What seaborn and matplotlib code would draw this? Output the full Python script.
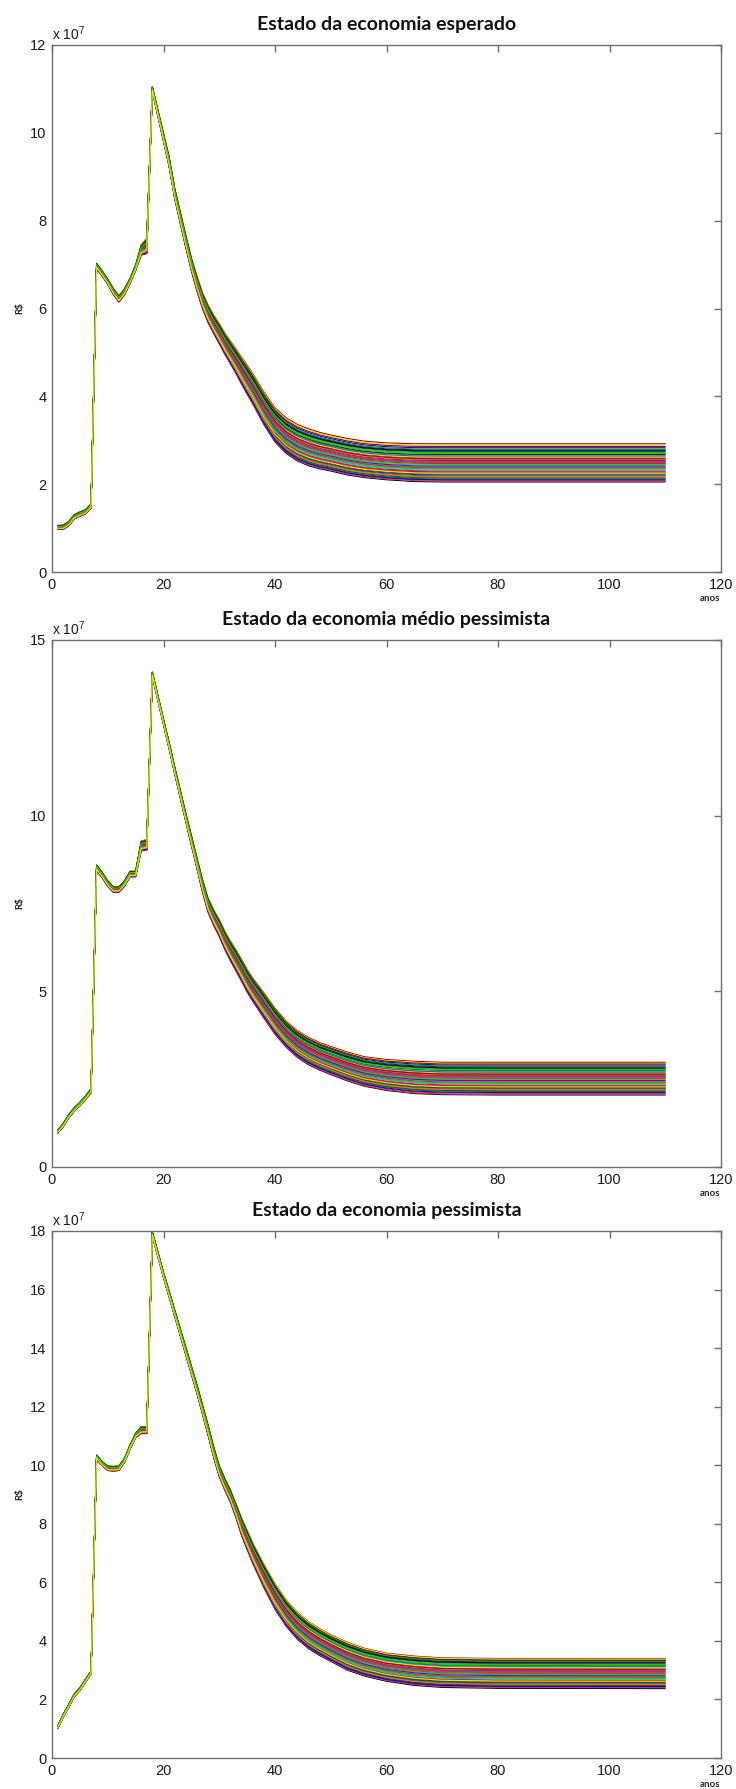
import numpy as np
import pandas as pd
import matplotlib
matplotlib.use("Agg")
import matplotlib.pyplot as plt
import seaborn as sns

# ---------------------------------------------------------------
# Simulated cash balance (R$, in units of 1e7) over the horizon.
# Each scenario is a band of simulation paths: the lower and upper
# envelope of the band at each year, plus the final level of each
# simulated path inside the band.
# ---------------------------------------------------------------
YEARS = [1, 2, 3, 4, 5, 6, 7, 8, 9, 10, 11, 12, 13, 14, 15, 16, 17, 18,
         19, 20, 21, 22, 23, 24, 25, 26, 27, 28, 29, 30, 31, 32, 33, 34,
         35, 36, 38, 40, 42, 44, 46, 48, 50, 53, 56, 60, 65, 70, 80, 110]

# Scenario 1: "esperado"
ESP_LOWER = [0.98, 0.97, 1.05, 1.21, 1.27, 1.32, 1.45, 6.91, 6.74, 6.55, 6.32, 6.15, 6.31, 6.57, 6.87, 7.22, 7.25, 10.95,
             10.38, 9.81, 9.24, 8.51, 7.95, 7.39, 6.86, 6.40, 6.00, 5.68, 5.43, 5.20, 4.96, 4.74, 4.52, 4.28,
             4.05, 3.83, 3.36, 2.96, 2.70, 2.53, 2.42, 2.35, 2.30, 2.21, 2.15, 2.10, 2.06, 2.05, 2.05, 2.05]
ESP_UPPER = [1.06, 1.07, 1.15, 1.31, 1.37, 1.42, 1.55, 7.03, 6.86, 6.67, 6.46, 6.29, 6.45, 6.69, 6.99, 7.45, 7.60, 11.05,
             10.52, 9.99, 9.46, 8.75, 8.21, 7.67, 7.16, 6.74, 6.36, 6.08, 5.85, 5.66, 5.44, 5.26, 5.08, 4.89,
             4.71, 4.52, 4.10, 3.74, 3.51, 3.36, 3.26, 3.18, 3.12, 3.04, 2.98, 2.94, 2.92, 2.92, 2.92, 2.92]
ESP_FINAL = [2.47, 2.12, 2.83, 2.30, 2.66, 2.05, 2.54, 2.92, 2.21, 2.39, 2.74, 2.16, 2.60, 2.34, 2.89,
             2.09, 2.50, 2.78, 2.26, 2.43, 2.68, 2.14, 2.86, 2.37, 2.56, 2.19, 2.72, 2.07, 2.45, 2.62,
             2.28, 2.80, 2.10, 2.52, 2.32, 2.76, 2.23, 2.58, 2.41, 2.17, 2.64, 2.36, 2.49, 2.70, 2.25]

# Scenario 2: "médio pessimista"
MED_LOWER = [0.96, 1.14, 1.39, 1.59, 1.74, 1.92, 2.11, 8.44, 8.23, 7.99, 7.82, 7.82, 7.99, 8.26, 8.26, 9.00, 9.02, 13.97,
             13.28, 12.59, 11.91, 11.20, 10.51, 9.83, 9.16, 8.50, 7.82, 7.25, 6.88, 6.56, 6.19, 5.87, 5.58, 5.29,
             4.98, 4.72, 4.24, 3.78, 3.41, 3.12, 2.91, 2.76, 2.63, 2.45, 2.30, 2.18, 2.09, 2.06, 2.05, 2.05]
MED_UPPER = [1.04, 1.24, 1.49, 1.69, 1.84, 2.02, 2.23, 8.60, 8.39, 8.15, 7.98, 7.98, 8.15, 8.42, 8.42, 9.28, 9.32, 14.09,
             13.42, 12.75, 12.09, 11.40, 10.73, 10.07, 9.44, 8.80, 8.18, 7.65, 7.32, 7.04, 6.71, 6.43, 6.18, 5.91,
             5.62, 5.38, 4.96, 4.52, 4.15, 3.88, 3.69, 3.54, 3.43, 3.27, 3.14, 3.06, 3.01, 2.98, 2.98, 2.98]
MED_FINAL = [2.52, 2.15, 2.90, 2.33, 2.71, 2.05, 2.60, 2.98, 2.24, 2.44, 2.80, 2.19, 2.66, 2.38, 2.95,
             2.10, 2.56, 2.85, 2.29, 2.48, 2.75, 2.17, 2.93, 2.41, 2.62, 2.22, 2.78, 2.07, 2.50, 2.68,
             2.31, 2.87, 2.12, 2.58, 2.36, 2.82, 2.26, 2.64, 2.46, 2.20, 2.70, 2.40, 2.54, 2.76, 2.28]

# Scenario 3: "pessimista"
PES_LOWER = [1.00, 1.39, 1.73, 2.09, 2.30, 2.59, 2.87, 10.21, 9.98, 9.82, 9.80, 9.82, 10.09, 10.55, 10.95, 11.08, 11.08, 17.83,
             17.12, 16.41, 15.75, 15.09, 14.43, 13.77, 13.11, 12.45, 11.74, 11.03, 10.27, 9.61, 9.15, 8.74, 8.21, 7.60,
             7.12, 6.65, 5.82, 5.08, 4.50, 4.06, 3.74, 3.50, 3.30, 3.00, 2.80, 2.62, 2.48, 2.41, 2.38, 2.37]
PES_UPPER = [1.08, 1.49, 1.83, 2.19, 2.40, 2.69, 2.97, 10.35, 10.12, 9.98, 9.96, 9.98, 10.23, 10.69, 11.09, 11.32, 11.32, 17.97,
             17.28, 16.59, 15.95, 15.31, 14.67, 14.03, 13.39, 12.75, 12.06, 11.37, 10.63, 9.99, 9.55, 9.16, 8.69, 8.20,
             7.78, 7.35, 6.62, 5.96, 5.40, 4.98, 4.66, 4.42, 4.21, 3.95, 3.75, 3.58, 3.48, 3.42, 3.40, 3.40]
PES_FINAL = [2.88, 2.45, 3.35, 2.66, 3.10, 2.37, 2.98, 3.40, 2.56, 2.78, 3.22, 2.50, 3.05, 2.72, 3.38,
             2.42, 2.93, 3.28, 2.61, 2.84, 3.16, 2.48, 3.33, 2.75, 3.01, 2.53, 3.19, 2.40, 2.86, 3.07,
             2.64, 3.30, 2.44, 2.96, 2.69, 3.25, 2.58, 3.03, 2.81, 2.51, 3.13, 2.74, 2.91, 3.17, 2.62]

TITLES = ["Estado da economia esperado",
          "Estado da economia médio pessimista",
          "Estado da economia pessimista"]
Y_LIMITS = [12, 15, 18]
Y_STEPS = [2, 5, 2]
X_TICKS = [0, 20, 40, 60, 80, 100, 120]

# Line colours, cycled over the simulation paths (last path drawn in yellow)
PALETTE = ["#ff0000", "#00a000", "#0000ff", "#cc00cc", "#00c8c8", "#000000", "#006400",
           "#a00000", "#6a00c8", "#ff6a00", "#2f5f9f", "#6a9a00", "#cc3366", "#00e000", "#e8e800"]


def paths_frame(lower, upper, finals):
    lo = np.array(lower)
    hi = np.array(upper)
    rows = []
    for k, level in enumerate(finals):
        pos = (level - lo[-1]) / (hi[-1] - lo[-1])
        vals = lo + pos * (hi - lo)
        rows.append(pd.DataFrame({"ano": YEARS, "valor": vals, "caminho": k}))
    return pd.concat(rows, ignore_index=True)


scenarios = [(ESP_LOWER, ESP_UPPER, ESP_FINAL),
             (MED_LOWER, MED_UPPER, MED_FINAL),
             (PES_LOWER, PES_UPPER, PES_FINAL)]

sns.set_theme(style="white")
plt.rcParams["font.family"] = ["Liberation Sans", "DejaVu Sans"]
plt.rcParams["mathtext.fontset"] = "custom"
plt.rcParams["mathtext.rm"] = "Liberation Sans"
plt.rcParams["mathtext.it"] = "Liberation Sans"

W, H = 736, 1789
fig = plt.figure(figsize=(W / 100, H / 100), dpi=100)
fig.patch.set_facecolor("white")

ax_left, ax_width, ax_height = 52, 669, 527
ax_tops = [45, 640, 1231]
axis_grey = "#6e6e6e"

for i, (lower, upper, finals) in enumerate(scenarios):
    top = ax_tops[i]
    ax = fig.add_axes([ax_left / W, 1 - (top + ax_height) / H, ax_width / W, ax_height / H])
    df = paths_frame(lower, upper, finals)
    colors = [PALETTE[k % len(PALETTE)] for k in range(len(finals))]
    sns.lineplot(data=df, x="ano", y="valor", hue="caminho", palette=colors,
                 estimator=None, sort=False, legend=False, linewidth=0.8, ax=ax)

    ax.set_xlim(0, 120)
    ax.set_ylim(0, Y_LIMITS[i])
    ax.set_xticks(X_TICKS)
    ax.set_yticks(np.arange(0, Y_LIMITS[i] + 1, Y_STEPS[i]))
    ax.set_xlabel("")
    ax.set_ylabel("")
    for sp in ax.spines.values():
        sp.set_visible(True)
        sp.set_color(axis_grey)
        sp.set_linewidth(1.0)
    ax.tick_params(direction="in", length=5, width=1.0, color=axis_grey,
                   top=True, right=True, labelsize=10.5, labelcolor="#1a1a1a", pad=4)

    ax.set_title(TITLES[i], fontsize=14, fontweight="bold", family=["Lato", "DejaVu Sans"],
                 color="#111111", pad=11)
    ax.text(0.0, 1.004, r"x 10$^{7}$", transform=ax.transAxes, ha="left", va="bottom",
            fontsize=10, color="#1a1a1a")
    ax.text(-0.048, 0.5, "R$", transform=ax.transAxes, rotation=90, ha="center", va="center",
            fontsize=7, fontweight="bold", family=["Lato", "DejaVu Sans"], color="#222222")
    ax.text(0.984, -0.05, "anos", transform=ax.transAxes, ha="center", va="center",
            fontsize=7, fontweight="bold", family=["Lato", "DejaVu Sans"], color="#222222")

fig.savefig("out.png", dpi=100, facecolor="white")
